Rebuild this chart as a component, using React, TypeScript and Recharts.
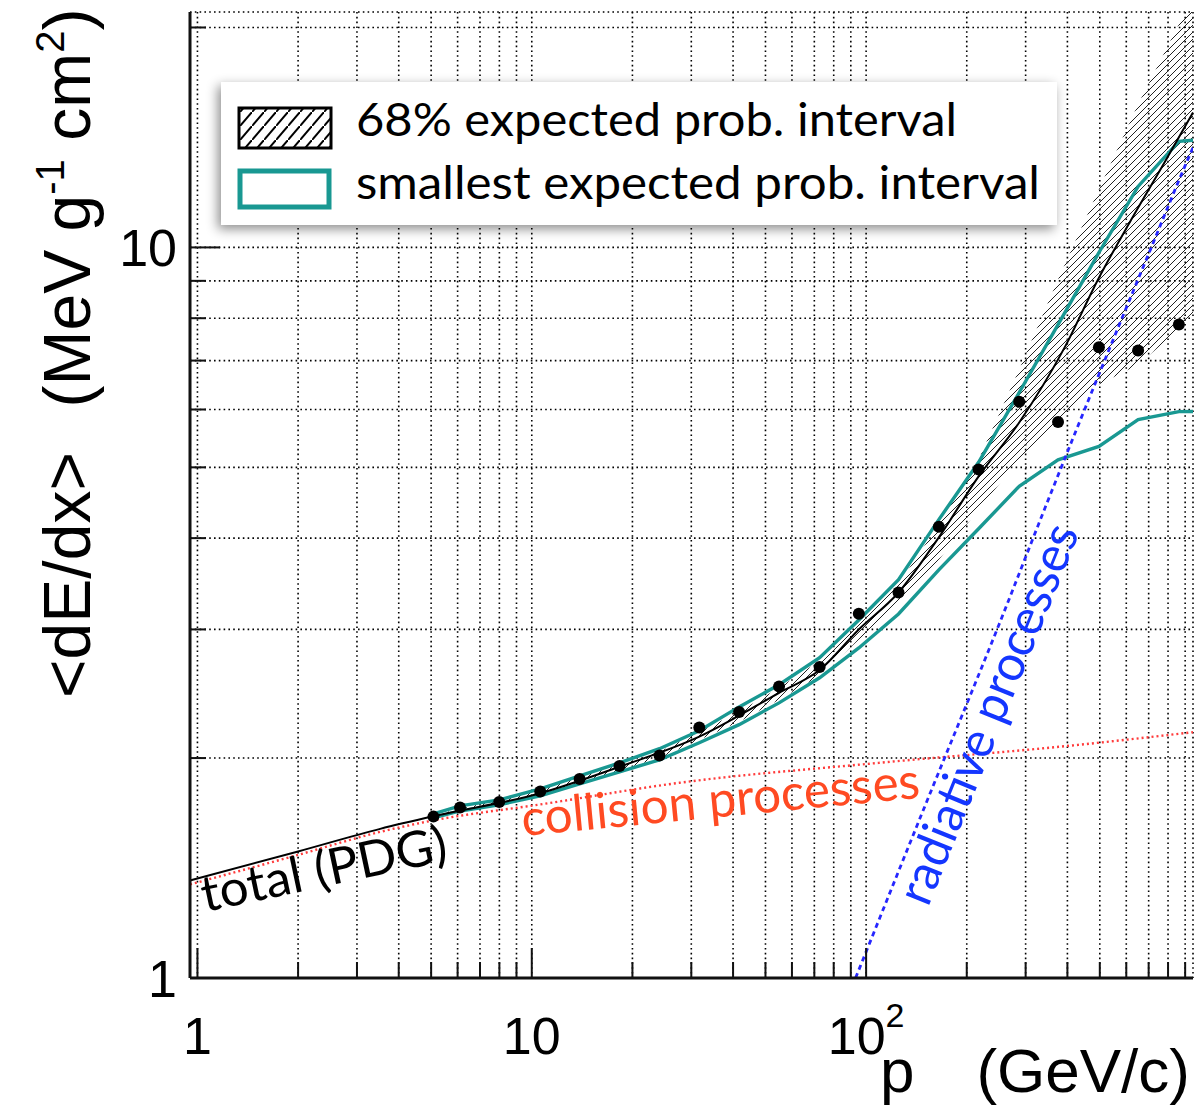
import React from 'react';
import { ComposedChart, XAxis, YAxis, CartesianGrid, Line, Area, Scatter } from 'recharts';

// ---------- data ----------
const xTicks = [1, 2, 3, 4, 5, 6, 7, 8, 9, 10, 20, 30, 40, 50, 60, 70, 80, 90, 100, 200, 300, 400, 500, 600, 700, 800, 900];
const yTicks = [1, 2, 3, 4, 5, 6, 7, 8, 9, 10, 20];

// measured <dE/dx> points
const pointP = [5.08, 6.1, 7.99, 10.6, 13.9, 18.3, 24.1, 31.7, 41.7, 54.9, 72.6, 95.1, 125, 165, 217, 287, 375, 497, 651, 862];
const pointDEDX = [1.663, 1.711, 1.741, 1.8, 1.873, 1.951, 2.016, 2.202, 2.312, 2.506, 2.665, 3.152, 3.369, 4.147, 4.965, 6.146, 5.77, 7.3, 7.225, 7.844];

// smallest expected probability interval (teal)
const tealP = [5.08, 6.1, 7.99, 10.6, 13.9, 18.3, 24.1, 31.7, 41.7, 54.9, 72.6, 95.1, 125, 165, 217, 287, 375, 497, 651, 862, 1135];
const tealUpper = [1.678, 1.72, 1.753, 1.815, 1.891, 1.97, 2.06, 2.18, 2.35, 2.52, 2.745, 3.09, 3.51, 4.24, 5.08, 6.33, 7.84, 9.84, 12.12, 13.97, 14.1];
const tealLower = [1.657, 1.693, 1.726, 1.776, 1.844, 1.915, 1.989, 2.099, 2.222, 2.38, 2.576, 2.83, 3.15, 3.62, 4.12, 4.71, 5.12, 5.34, 5.81, 5.96, 5.97];

// 68% expected probability interval (hatched)
const hatchP = [5.08, 10.6, 24.1, 41.7, 54.9, 72.6, 95.1, 125, 165, 217, 287, 375, 497, 651, 862, 1135];
const hatchLow = [1.662, 1.781, 2.001, 2.242, 2.404, 2.593, 2.904, 3.243, 3.737, 4.377, 5.125, 5.81, 6.49, 6.91, 7.72, 8.49];
const hatchHigh = [1.672, 1.809, 2.04, 2.314, 2.496, 2.718, 3.054, 3.465, 4.174, 5.125, 6.806, 9.04, 12.01, 15.7, 20.2, 26.4];

// total (PDG)
const pdgP = [0.95, 2, 3.52, 5.14, 10.6, 18.3, 31.7, 54.9, 72.6, 95.1, 125, 165, 217, 287, 394, 494, 620, 783, 950];
const pdgDEDX = [1.36, 1.49, 1.6, 1.667, 1.79, 1.946, 2.14, 2.457, 2.64, 3.0, 3.37, 4.01, 4.86, 5.76, 7.32, 9.04, 10.9, 13.1, 15.3];

// collision processes
const collP = [0.95, 2, 3.52, 5.14, 10.6, 27.6, 109, 431, 950];
const collDEDX = [1.343, 1.474, 1.585, 1.645, 1.728, 1.85, 1.97, 2.085, 2.17];

// radiative processes
const radP = [93, 150, 250, 351, 518, 700, 917, 950];
const radDEDX = [1.0, 1.72, 3.05, 4.52, 7.02, 9.8, 13.2, 13.7];

// ---------- helpers ----------
const pts = (xs: number[], ys: number[]) => xs.map((x, i) => ({ x, y: ys[i] }));
const band = (xs: number[], lo: number[], hi: number[]) => xs.map((x, i) => ({ x, band: [lo[i], hi[i]] }));

const pointData = pts(pointP, pointDEDX);
const tealUpData = pts(tealP, tealUpper);
const tealLoData = pts(tealP, tealLower);
const hatchData = band(hatchP, hatchLow, hatchHigh);
const pdgData = pts(pdgP, pdgDEDX);
const collData = pts(collP, collDEDX);
const radData = pts(radP, radDEDX);

const FONT_AX = '"Liberation Sans", Arial, Helvetica, sans-serif';
const FONT_TXT = 'Lato, "Open Sans", sans-serif';
const TEAL = '#199892';
const FRAME = '#111';
const MAJOR = 30;
const MINOR = 16;

const isDecade = (v: number) => Math.abs(Math.log10(v) - Math.round(Math.log10(v))) < 1e-9;

const XTickBottom = (props: any) => {
  const { x, y, payload } = props;
  const v = payload.value;
  const len = isDecade(v) ? MAJOR : MINOR;
  let label: any = null;
  if (v === 1 || v === 10) {
    label = (
      <text x={x} y={y + 76} textAnchor="middle" fontFamily={FONT_AX} fontSize={52} fill="#000">
        {String(v)}
      </text>
    );
  } else if (v === 100) {
    label = (
      <text x={x} y={y + 76} textAnchor="middle" fontFamily={FONT_AX} fontSize={52} fill="#000">
        10<tspan dy={-27} fontSize={34}>2</tspan>
      </text>
    );
  }
  return (
    <g>
      <line x1={x} y1={y} x2={x} y2={y - len} stroke={FRAME} strokeWidth={2} />
      {label}
    </g>
  );
};

const XTickTop = (props: any) => {
  const { x, y, payload } = props;
  const len = isDecade(payload.value) ? MAJOR : MINOR;
  return <line x1={x} y1={y} x2={x} y2={y + len} stroke={FRAME} strokeWidth={2} />;
};

const YTickLeft = (props: any) => {
  const { x, y, payload } = props;
  const v = payload.value;
  const len = isDecade(v) ? MAJOR : MINOR;
  let label: any = null;
  if (v === 1 || v === 10) {
    label = (
      <text x={x - 13} y={y + 19} textAnchor="end" fontFamily={FONT_AX} fontSize={52} fill="#000">
        {String(v)}
      </text>
    );
  }
  return (
    <g>
      <line x1={x} y1={y} x2={x + len} y2={y} stroke={FRAME} strokeWidth={2} />
      {label}
    </g>
  );
};

const YTickRight = (props: any) => {
  const { x, y, payload } = props;
  const len = isDecade(payload.value) ? MAJOR : MINOR;
  return <line x1={x} y1={y} x2={x - len} y2={y} stroke={FRAME} strokeWidth={2} />;
};

const Dot = (p: any) => <circle cx={p.cx} cy={p.cy} r={6} fill="#000" />;

export default function App() {
  const axisLine = { stroke: FRAME, strokeWidth: 3 };
  return (
    <div style={{ position: 'absolute', left: 0, top: 0, width: 1196, height: 1111, background: '#fff' }}>
      <ComposedChart width={1196} height={1111} margin={{ top: 12, right: 3, bottom: 73, left: 130 }}>
        <defs>
          <pattern id="hatchMain" patternUnits="userSpaceOnUse" width="7" height="7">
            <path d="M-1,1 L1,-1 M0,7 L7,0 M6,8 L8,6" stroke="#222" strokeWidth="1" />
          </pattern>
        </defs>
        <CartesianGrid stroke="#000" strokeWidth={1.6} strokeDasharray="1.6 3.2" />
        <XAxis
          type="number"
          dataKey="x"
          scale="log"
          domain={[0.95, 950]}
          allowDataOverflow
          ticks={xTicks}
          interval={0}
          tickSize={0}
          tickMargin={0}
          tickLine={false}
          axisLine={axisLine}
          tick={XTickBottom}
          height={60}
        />
        <XAxis
          xAxisId="top"
          orientation="top"
          type="number"
          dataKey="x"
          scale="log"
          domain={[0.95, 950]}
          allowDataOverflow
          ticks={xTicks}
          interval={0}
          tickSize={0}
          tickMargin={0}
          tickLine={false}
          axisLine={axisLine}
          tick={XTickTop}
          height={0}
        />
        <YAxis
          type="number"
          scale="log"
          domain={[1, 21]}
          allowDataOverflow
          ticks={yTicks}
          interval={0}
          tickSize={0}
          tickMargin={0}
          tickLine={false}
          axisLine={axisLine}
          tick={YTickLeft}
          width={60}
        />
        <YAxis
          yAxisId="right"
          orientation="right"
          type="number"
          scale="log"
          domain={[1, 21]}
          allowDataOverflow
          ticks={yTicks}
          interval={0}
          tickSize={0}
          tickMargin={0}
          tickLine={false}
          axisLine={axisLine}
          tick={YTickRight}
          width={0}
        />
        <Area
          data={hatchData}
          dataKey="band"
          type="linear"
          stroke="none"
          fill="url(#hatchMain)"
          fillOpacity={1}
          isAnimationActive={false}
          dot={false}
          activeDot={false}
        />
        <Line data={tealUpData} dataKey="y" type="linear" stroke={TEAL} strokeWidth={3.4} dot={false} activeDot={false} isAnimationActive={false} />
        <Line data={tealLoData} dataKey="y" type="linear" stroke={TEAL} strokeWidth={3.4} dot={false} activeDot={false} isAnimationActive={false} />
        <Line data={pdgData} dataKey="y" type="monotone" stroke="#000" strokeWidth={2} dot={false} activeDot={false} isAnimationActive={false} />
        <Line data={collData} dataKey="y" type="monotone" stroke="#ff3b3b" strokeWidth={2.4} strokeDasharray="2 3" dot={false} activeDot={false} isAnimationActive={false} />
        <Line data={radData} dataKey="y" type="monotone" stroke="#2626ff" strokeWidth={2.8} strokeDasharray="5 4" dot={false} activeDot={false} isAnimationActive={false} />
        <Scatter data={pointData} dataKey="y" fill="#000" shape={Dot} isAnimationActive={false} />
      </ComposedChart>

      <svg width={1196} height={1111} style={{ position: 'absolute', left: 0, top: 0, pointerEvents: 'none' }}>
        <defs>
          <pattern id="hatchLeg" patternUnits="userSpaceOnUse" width="12" height="14">
            <path d="M-1,15.2 L13,-1.2" stroke="#000" strokeWidth="2" />
          </pattern>
          <filter id="legShadow" x="-10%" y="-30%" width="120%" height="160%">
            <feDropShadow dx="-3" dy="4" stdDeviation="6" floodColor="#000" floodOpacity="0.45" />
          </filter>
        </defs>

        {/* legend */}
        <rect x={221} y={82} width={836} height={143} fill="#fff" filter="url(#legShadow)" />
        <rect x={239} y={108} width={92} height={40} fill="url(#hatchLeg)" stroke="#000" strokeWidth={3} />
        <rect x={240} y={171} width={89} height={36} fill="#fff" stroke={TEAL} strokeWidth={5} />
        <text x={356} y={136} fontFamily={FONT_TXT} fontSize={46} fill="#000" textLength={601} lengthAdjust="spacingAndGlyphs">
          68% expected prob. interval
        </text>
        <text x={356} y={199} fontFamily={FONT_TXT} fontSize={46} fill="#000" textLength={684} lengthAdjust="spacingAndGlyphs">
          smallest expected prob. interval
        </text>

        {/* annotations */}
        <text x={205} y={912} transform="rotate(-12 205 912)" fontFamily={FONT_TXT} fontSize={50} fill="#000" textLength={250} lengthAdjust="spacingAndGlyphs">
          total (PDG)
        </text>
        <text x={523} y={836} transform="rotate(-5.5 523 836)" fontFamily={FONT_TXT} fontSize={50} fill="#ff4a22" textLength={400} lengthAdjust="spacingAndGlyphs">
          collision processes
        </text>
        <text x={928} y={908} transform="rotate(-68 928 908)" fontFamily={FONT_TXT} fontSize={50} fill="#1436ff" textLength={405} lengthAdjust="spacingAndGlyphs">
          radiative processes
        </text>

        {/* axis titles */}
        <text transform="translate(90,575) rotate(-90)" textAnchor="middle" fontFamily={FONT_AX} fontSize={66} fill="#000">
          {'<dE/dx>'}
        </text>
        <text transform="translate(90,208) rotate(-90)" textAnchor="middle" fontFamily={FONT_AX} fontSize={66} fill="#000">
          (MeV g<tspan dy={-26} fontSize={40}>-1</tspan>
          <tspan dy={26}> cm</tspan>
          <tspan dy={-26} fontSize={40}>2</tspan>
          <tspan dy={26}>)</tspan>
        </text>
        <text x={880} y={1092} fontFamily={FONT_AX} fontSize={62} fill="#000">p</text>
        <text x={1190} y={1092} textAnchor="end" fontFamily={FONT_AX} fontSize={62} fill="#000">(GeV/c)</text>
      </svg>
    </div>
  );
}
